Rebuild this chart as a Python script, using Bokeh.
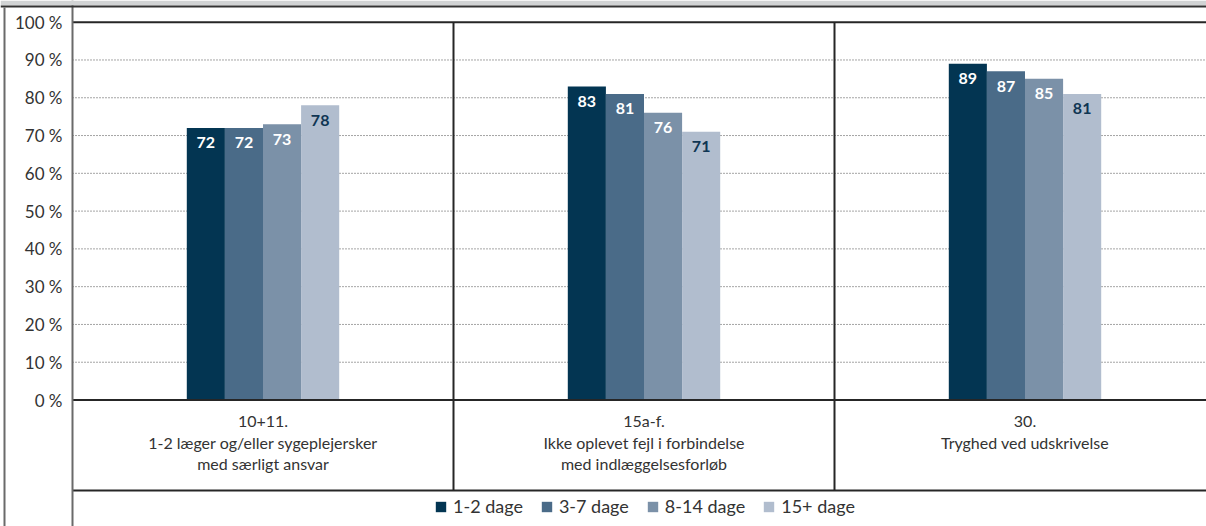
from bokeh.plotting import figure
from bokeh.models import (ColumnDataSource, Range1d, FixedTicker, PrintfTickFormatter,
                          LinearAxis, BoxAnnotation, Legend, LegendItem)
from bokeh.core.properties import value
from bokeh.embed import file_html
from bokeh.resources import INLINE

# --- data -------------------------------------------------------------
categories = [
    "10+11.\n1-2 læger og/eller sygeplejersker\nmed særligt ansvar",
    "15a-f.\nIkke oplevet fejl i forbindelse\nmed indlæggelsesforløb",
    "30.\nTryghed ved udskrivelse",
]
series = ["1-2 dage", "3-7 dage", "8-14 dage", "15+ dage"]
vals_1_2 = [72, 83, 89]
vals_3_7 = [72, 81, 87]
vals_8_14 = [73, 76, 85]
vals_15 = [78, 71, 81]
y_ticks = [0, 10, 20, 30, 40, 50, 60, 70, 80, 90, 100]

colors = ["#033552", "#4a6b88", "#7b91a8", "#b1bdce"]
label_colors = ["#ffffff", "#ffffff", "#ffffff", "#0f3553"]

# --- layout constants (pixels) ---------------------------------------
W, H = 1206, 526
LEFT = 72             # width of the tick-label column
GROUP_PX = 381        # width of one category block
TOP_PX = 21.7         # pixel row of 100 %
ZERO_PX = 399.5       # pixel row of 0 %
LABEL_BOTTOM_PX = 490 # rule under the category labels
PX_PER_UNIT = (ZERO_PX - TOP_PX) / 100.0
LINE = "#262626"


def px_to_val(py):
    return (ZERO_PX - py) / PX_PER_UNIT


x_start = -LEFT / GROUP_PX
x_end = (W - LEFT) / GROUP_PX
y_start = px_to_val(H)
y_end = px_to_val(0)
y_label_bottom = px_to_val(LABEL_BOTTOM_PX)

p = figure(width=W, height=H, output_backend="svg", toolbar_location=None,
           x_range=Range1d(x_start, x_end), y_range=Range1d(y_start, y_end),
           x_axis_location=None, y_axis_location=None,
           min_border=0, outline_line_color=None,
           background_fill_color="white", border_fill_color="white")
p.grid.visible = False

# y axis pinned to the left edge of the chart area
ax = LinearAxis(fixed_location=0,
                ticker=FixedTicker(ticks=y_ticks),
                formatter=PrintfTickFormatter(format="%d %%"))
ax.axis_line_color = "#6a6a6a"
ax.axis_line_width = 2
ax.major_tick_line_color = None
ax.minor_tick_line_color = None
ax.major_tick_out = 0
ax.major_tick_in = 0
ax.major_label_standoff = 10
ax.major_label_text_font = "Lato"
ax.major_label_text_font_size = "17px"
ax.major_label_text_color = "#333333"
p.add_layout(ax, "left")

# dotted gridlines across the chart area
grid_y = y_ticks[1:-1]
p.segment(x0=[0] * len(grid_y), x1=[x_end] * len(grid_y), y0=grid_y, y1=grid_y,
          line_color="#4a4a4a", line_dash="1 2", line_width=1)

# bars with value labels
offsets = [-0.15, -0.05, 0.05, 0.15]
all_vals = [vals_1_2, vals_3_7, vals_8_14, vals_15]
renderers = []
for name, vals, off, col, lcol in zip(series, all_vals, offsets, colors, label_colors):
    src = ColumnDataSource(dict(
        x=[i + 0.5 + off for i in range(len(categories))],
        top=vals,
        lab=[str(v) for v in vals],
    ))
    r = p.vbar(x="x", top="top", bottom=0, width=0.1, source=src,
               fill_color=col, line_color=None)
    renderers.append(r)
    p.text(x="x", y="top", text="lab", source=src, y_offset=15,
           text_align="center", text_baseline="middle",
           text_font=value("Lato"), text_font_style="bold",
           text_font_size="16px", text_color=lcol)

# solid rules: 100 %, 0 % and under the category labels
rule_y = [100, 0, y_label_bottom]
p.segment(x0=[0] * 3, x1=[x_end] * 3, y0=rule_y, y1=rule_y,
          line_color=LINE, line_width=2)
# category separators
sep_x = list(range(1, len(categories)))
p.segment(x0=sep_x, x1=sep_x, y0=[100] * len(sep_x),
          y1=[y_label_bottom] * len(sep_x), line_color=LINE, line_width=2)

# category labels, top aligned under the 0 % rule
p.text(x=[i + 0.5 for i in range(len(categories))], y=[0] * len(categories),
       text=categories, y_offset=11, text_align="center", text_baseline="top",
       text_font=value("Lato"), text_font_size="16px", text_color="#333333",
       text_line_height=1.14)

# header band and outer left rule
p.add_layout(BoxAnnotation(left=0, right=W, top=0, bottom=5,
                           left_units="canvas", right_units="canvas",
                           top_units="canvas", bottom_units="canvas",
                           fill_color="#d1d3d4", fill_alpha=1, line_color=None))
p.add_layout(BoxAnnotation(left=0, right=W, top=5, bottom=7,
                           left_units="canvas", right_units="canvas",
                           top_units="canvas", bottom_units="canvas",
                           fill_color="#333333", fill_alpha=1, line_color=None))
p.add_layout(BoxAnnotation(left=3, right=5, top=7, bottom=H,
                           left_units="canvas", right_units="canvas",
                           top_units="canvas", bottom_units="canvas",
                           fill_color="#6a6a6a", fill_alpha=1, line_color=None))

# legend
legend = Legend(items=[LegendItem(label=s, renderers=[r]) for s, r in zip(series, renderers)],
                orientation="horizontal", location=(434, 9),
                glyph_width=13, glyph_height=13, label_height=13,
                label_standoff=6, spacing=17, padding=0, margin=0,
                border_line_color=None, background_fill_alpha=0,
                label_text_font="Lato", label_text_font_size="18px",
                label_text_color="#333333", label_text_baseline="middle")
p.add_layout(legend)

open("out.html", "w").write(file_html(p, INLINE))
